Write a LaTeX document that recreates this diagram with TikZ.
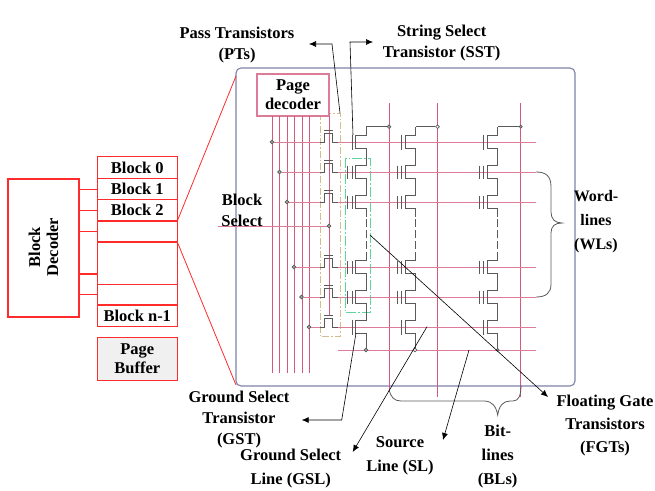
\documentclass[tikz,border=0pt]{standalone}
\usepackage{fontspec}
\setmainfont{Liberation Serif}
\usetikzlibrary{arrows.meta, positioning, calc}
\definecolor{boxred}{HTML}{FF2A2A}
\definecolor{linepink}{HTML}{DC7C98}
\definecolor{bitpink}{HTML}{D6587C}
\definecolor{framegrey}{HTML}{7C82A8}
\definecolor{cellgrey}{HTML}{5A5A5A}
\definecolor{passtan}{HTML}{D5BC8F}
\definecolor{fgtgreen}{HTML}{5FD49B}
\definecolor{bufgrey}{HTML}{F0F0F0}

\begin{document}
\begin{tikzpicture}[
      x=1pt, y=-1pt, >={Latex[length=7pt,width=6pt]},
      txt/.style={font=\fontsize{16.5}{21}\selectfont\bfseries, align=center, inner sep=0pt},
      redbox/.style={draw=boxred, line width=1.1pt, minimum width=80pt, outer sep=0pt,
        font=\fontsize{16.5}{19}\selectfont\bfseries, align=center, inner sep=0pt},
      redline/.style={draw=boxred, line width=1.1pt},
      wordline/.style={linepink, line width=0.9pt},
      bitline/.style={bitpink, line width=0.8pt},
      cellline/.style={cellgrey, line width=0.8pt},
      leader/.style={->, black, line width=0.6pt},
      junction/.style={circle, draw=cellgrey, fill=gray!70, line width=0.7pt,
        minimum size=3.6pt, inner sep=0pt},
      openjunction/.style={junction, fill=white},
      fgcell/.pic={
        \draw[cellline] (0,-15) -- (0,-6.5) -- (-10.5,-6.5) -- (-10.5,6.5) -- (0,6.5) -- (0,15);
        \draw[cellline] (-14,-6.5) -- (-14,6.5) (-18.5,-6.5) -- (-18.5,6.5);
      },
      selcell/.pic={
        \draw[cellline] (0,-15) -- (0,-6.5) -- (-10.5,-6.5) -- (-10.5,6.5) -- (0,6.5) -- (0,15);
        \draw[cellline] (-14,-7.5) -- (-14,7.5);
      },
      passcell/.pic={
        \draw[cellline] (-8.5,0) -- (-4.2,0) -- (-4.2,-9) -- (4.2,-9) -- (4.2,0) -- (9.5,0);
        \draw[cellline] (-4.2,-12) -- (4.2,-12);
      }
    ]
      \useasboundingbox (0,0) rectangle (655,490);

      % memory array side
      \node[redbox, minimum width=71pt, minimum height=138pt] (blockdec) at (43.5,248) {};
      \node[txt, rotate=90] (blockdectxt) at (43.5,247) {Block\\[-3pt]Decoder};
      \node[redbox, minimum height=22pt] (block0) at (137.3,167.7) {Block 0};
      \node[redbox, minimum height=21pt] (block1) at (137.3,189.2) {Block 1};
      \node[redbox, minimum height=21pt] (block2) at (137.3,210.3) {Block 2};
      \node[redbox, minimum height=21pt] (block3) at (137.3,231.5) {};
      \node[redbox, minimum height=42.7pt] (block4) at (137.3,263.3) {};
      \node[redbox, minimum height=20.3pt] (block5) at (137.3,294.8) {};
      \node[redbox, minimum height=21.7pt] (blockn) at (137.3,315.8) {Block n-1};
      \node[redbox, fill=bufgrey, minimum height=42.7pt] (pagebuf) at (137.3,358.7) {Page\\Buffer};

      \draw[redline] (blockdec.east |- block1) -- (block1.west);
      \draw[redline] (blockdec.east |- block2) -- (block2.west);
      \draw[redline] (blockdec.east |- block3) -- (block3.west);
      \coordinate (dec4) at (79,274);
      \coordinate (dec5) at (79,294.7);
      \draw[redline] (dec4) -- (dec4 -| block4.west);
      \draw[redline] (dec5) -- (dec5 -| block5.west);

      % zoomed block
      \node[draw=framegrey, line width=1.1pt, rounded corners=5pt, minimum width=339pt,
        minimum height=318pt, outer sep=0pt] (frame) at (405.5,227) {};
      \coordinate (zoomtop) at (236,76);
      \coordinate (zoombot) at (236,385);
      \draw[redline, line width=0.8pt] (block3.north east) -- (zoomtop);
      \draw[redline, line width=0.8pt] (block3.south east) -- (zoombot);

      % dash-dot groups
      \draw[passtan, line width=1pt, dash pattern=on 7pt off 2pt on 1.5pt off 2pt] (320,113) rectangle (340,336);
      \draw[fgtgreen, line width=1pt, dash pattern=on 10pt off 2pt on 1.5pt off 2pt] (345,158) rectangle (370,312);

      \node[draw=linepink, line width=1.1pt, fill=white, minimum width=72pt, minimum height=42pt,
        outer sep=0pt, font=\fontsize{16.5}{19}\selectfont\bfseries, align=center, inner sep=0pt]
        (pagedec) at (293,95) {Page\\decoder};

      % decoder outputs
      \foreach \x in {272,279,287,294,302,309}
        \draw[bitline] (\x,116) -- (\x,373);
      \draw[bitline] (329,116) -- (329,315);

      % bit-lines
      \draw[bitline] (389,103) -- (389,392);
      \draw[bitline] (437.5,103) -- (437.5,397);
      \draw[bitline] (520.7,103) -- (520.7,397);

      % word-lines
      \foreach \name/\x/\y in {wla/272/142,wlb/279.5/172,wlc/287/202,wld/294/267,wle/301.5/297,wlf/309/327} {
        \node[junction] (\name) at (\x,\y) {};
        \coordinate (\name-l) at (320,\y);
        \coordinate (\name-r) at (338,\y);
        \coordinate (\name-e) at (536,\y);
        \draw[wordline] (\name) -- (\name-l);
        \draw[wordline] (\name-r) -- (\name-e);
        \pic at (328.5,\y) {passcell};
      }
      \coordinate (slstart) at (338,350);
      \coordinate (slend) at (536,350);
      \draw[wordline] (slstart) -- (slend);
      \coordinate (blockselin) at (218,226);
      \node[junction] (blocksel) at (329,226) {};
      \draw[wordline] (blockselin) -- (blocksel);

      % strings
      \foreach \x in {366,415.7,497.7} {
        \pic at (\x,142) {selcell};
        \pic at (\x,172) {fgcell};
        \pic at (\x,202) {fgcell};
        \pic at (\x,267) {fgcell};
        \pic at (\x,297) {fgcell};
        \pic at (\x,327) {selcell};
        \draw[cellline, dash pattern=on 8pt off 3pt] (\x,219) -- (\x,251);
        \draw[cellline] (\x,342) -- (\x,350);
      }
      \node[junction] (blta) at (389,126.7) {};
      \node[openjunction] (bltb) at (437.5,126.7) {};
      \node[junction, minimum size=3pt] (bltc) at (520.7,126.7) {};
      \draw[cellline] (blta) -- (366,126.7);
      \draw[cellline] (bltb) -- (415.7,126.7);
      \draw[cellline] (bltc) -- (497.7,126.7);
      \node[junction] (sla) at (366,350) {};
      \node[openjunction] (slb) at (415,350) {};
      \node[junction, minimum size=3pt] (slc) at (497.7,350) {};

      % braces
      \draw[cellline, line width=0.8pt] (wlb-e) .. controls (546,172) and (551,176) .. (551,187)
        -- (551,212) .. controls (551,219) and (555,223) .. (562,223)
        .. controls (555,223) and (551,226) .. (551,233) -- (551,284)
        .. controls (551,293) and (546,297) .. (wle-e);
      \coordinate (bracel) at (389,390);
      \coordinate (bracer) at (521,385);
      \draw[cellline, line width=0.8pt] (bracel) .. controls (391,397) and (394,401) .. (401,401)
        -- (484,401) .. controls (492,401) and (496,406) .. (497.7,415)
        .. controls (499,406) and (503,401) .. (510,401)
        -- (513,401) .. controls (519,401) and (521,395) .. (bracer);

      % labels
      \node[txt] (ptstxt) at (237,45) {Pass Transistors\\(PTs)};
      \node[txt] (ssttxt) at (441.7,43) {String Select\\Transistor (SST)};
      \node[txt] (blockseltxt) at (242,210) {Block\\Select};
      \node[txt, font=\fontsize{16}{21}\selectfont\bfseries] (wltxt) at (596,222) {Word-\\[3pt]lines\\[3pt](WLs)};
      \node[txt] (gsttxt) at (239,420) {Ground Select\\Transistor\\(GST)};
      \node[txt] (gsltxt) at (290.7,469) {Ground Select\\[3pt]Line (GSL)};
      \node[txt] (sltxt) at (400,456) {Source\\[3pt]Line (SL)};
      \node[txt] (bltxt) at (497.7,457) {Bit-\\[3pt]lines\\[3pt](BLs)};
      \node[txt] (fgttxt) at (605,426) {Floating Gate\\[2pt]Transistors\\[2pt](FGTs)};

      % leaders
      \coordinate (ptsfrom) at (340,113);
      \coordinate (ptsto) at (309,44);
      \coordinate (sstfrom) at (353,135);
      \coordinate (sstto) at (373,42);
      \coordinate (gstfrom) at (356,333);
      \coordinate (gstto) at (301.7,420);
      \coordinate (gslfrom) at (427,326.7);
      \coordinate (gslto) at (352.7,452);
      \coordinate (slfrom) at (469,350);
      \coordinate (slto) at (443,440);
      \coordinate (fgtfrom) at (370,235);
      \coordinate (fgtto) at (548,397);
      \draw[leader] (ptsfrom) -- (332,44) -- (ptsto);
      \draw[leader] (sstfrom) -- (350,42) -- (sstto);
      \draw[leader] (gstfrom) -- (341.7,420) -- (gstto);
      \draw[leader] (gslfrom) -- (gslto);
      \draw[leader] (slfrom) -- (slto);
      \draw[leader] (fgtfrom) -- (fgtto);
    \end{tikzpicture}
\end{document}
